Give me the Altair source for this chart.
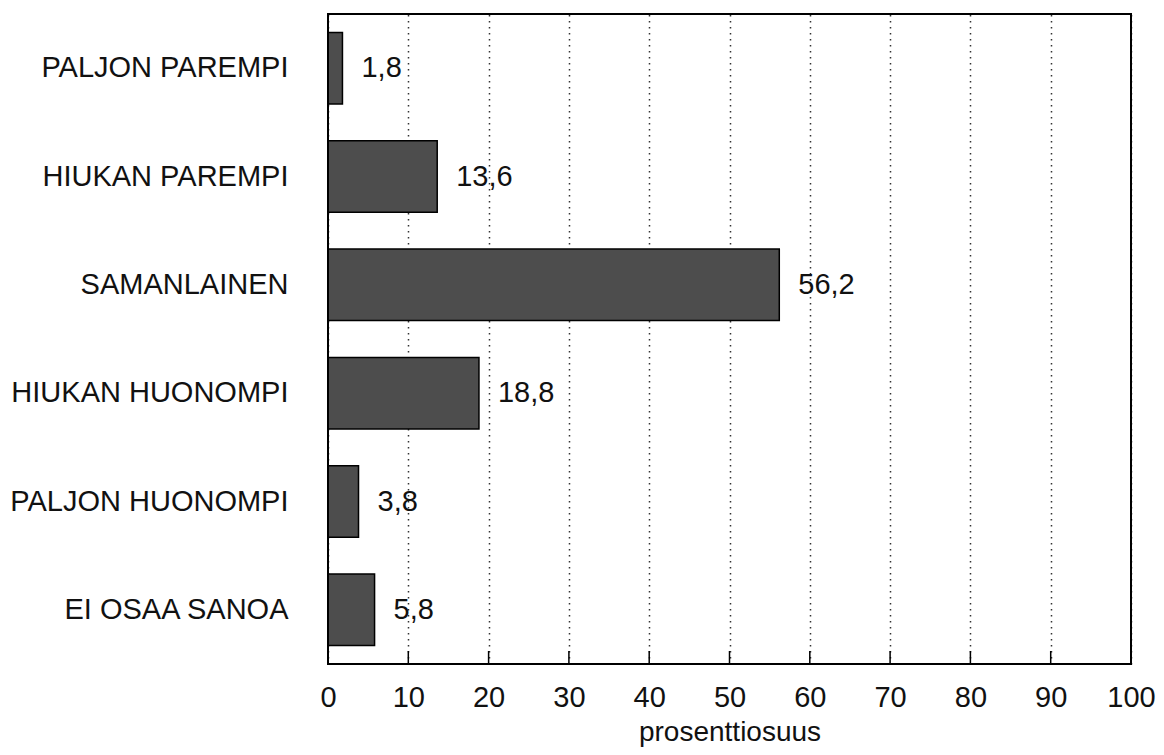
import altair as alt
import pandas as pd

categories = ["PALJON PAREMPI", "HIUKAN PAREMPI", "SAMANLAINEN",
              "HIUKAN HUONOMPI", "PALJON HUONOMPI", "EI OSAA SANOA"]
values = [1.8, 13.6, 56.2, 18.8, 3.8, 5.8]
value_labels = ["1,8", "13,6", "56,2", "18,8", "3,8", "5,8"]
tick_values = [0, 10, 20, 30, 40, 50, 60, 70, 80, 90, 100]
inner_ticks = [10, 20, 30, 40, 50, 60, 70, 80, 90]

df = pd.DataFrame({"cat": categories, "val": values, "lab": value_labels})
ticks_df = pd.DataFrame({"t": inner_ticks})

FONT = "Liberation Sans"
W, H = 803, 650

x_scale = alt.Scale(domain=[0, 100], nice=False, zero=True)
y_scale = alt.Scale(domain=categories, paddingInner=0.34, paddingOuter=0.17)

x_axis = alt.Axis(values=tick_values, grid=True, gridDash=[1.5, 4.5], gridColor="#333",
                  gridWidth=1.5, ticks=False, domain=False, labelFontSize=29,
                  labelFont=FONT, labelColor="#111", labelPadding=19, labelFlush=False,
                  title="prosenttiosuus", titleFont=FONT, titleFontSize=28,
                  titleFontWeight="normal", titleColor="#111", titlePadding=6)
y_axis = alt.Axis(title=None, ticks=False, domain=False, labelFontSize=29,
                  labelFont=FONT, labelColor="#111", labelPadding=40, labelLimit=400)

bars = alt.Chart(df).mark_bar(fill="#4d4d4d", stroke="#000", strokeWidth=1.5).encode(
    x=alt.X("val:Q", scale=x_scale, axis=x_axis),
    y=alt.Y("cat:N", scale=y_scale, axis=y_axis, sort=categories),
)

text = alt.Chart(df).mark_text(align="left", baseline="middle", dx=19, fontSize=29,
                               font=FONT, color="#111").encode(
    x=alt.X("val:Q", scale=x_scale),
    y=alt.Y("cat:N", scale=y_scale, sort=categories),
    text="lab:N",
)

tick_marks = alt.Chart(ticks_df).mark_rule(color="#000", strokeWidth=1.5).encode(
    x=alt.X("t:Q", scale=x_scale),
    y=alt.value(H - 13),
    y2=alt.value(H),
)

frame = alt.Chart(ticks_df).mark_rect(fill=None, stroke="#000", strokeWidth=1.5).encode(
    x=alt.value(0), x2=alt.value(W), y=alt.value(0), y2=alt.value(H),
)

chart = alt.layer(bars, text, tick_marks, frame).properties(
    width=W, height=H,
    background="white",
    autosize=alt.AutoSizeParams(type="none"),
    padding={"left": 320, "top": 6, "right": 25, "bottom": 83},
).configure_view(stroke="#000", strokeWidth=1.5)

chart.save("out.html", embed_options={"renderer": "svg", "actions": False})
